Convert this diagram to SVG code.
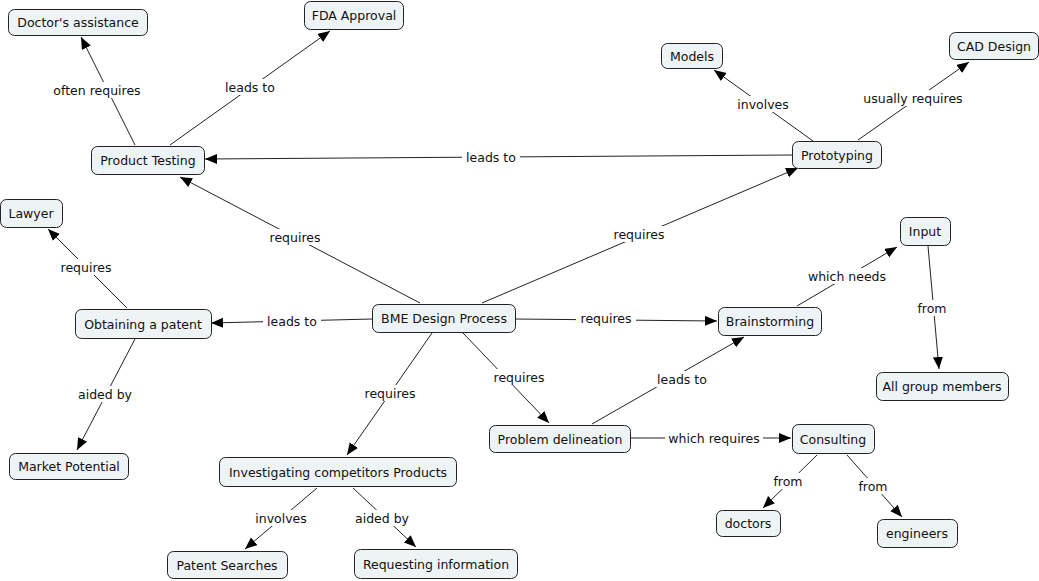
<svg xmlns="http://www.w3.org/2000/svg" width="1039" height="581" viewBox="0 0 1039 581">
<style>
.n rect{fill:#eef3f6;stroke:#222;stroke-width:1}
.n text,.lb text{font-family:"DejaVu Sans",Verdana,sans-serif;font-size:12.5px;fill:#111;text-anchor:middle;dominant-baseline:central}
.c line{stroke:#222;stroke-width:1;fill:none}
.lb rect{fill:#fff}
</style>
<defs>
<marker id="ah" markerUnits="userSpaceOnUse" markerWidth="13" markerHeight="11" refX="12" refY="5" orient="auto">
<path d="M0,0 L12,5 L0,10 z" fill="#000"/>
</marker>
</defs>
<rect width="1039" height="581" fill="#fff"/>
<g id="connectors" class="c">
<line x1="135" y1="145" x2="81" y2="37" marker-end="url(#ah)"/>
<line x1="170" y1="145" x2="330" y2="31" marker-end="url(#ah)"/>
<line x1="792" y1="155" x2="205" y2="159" marker-end="url(#ah)"/>
<line x1="420" y1="303" x2="180" y2="177" marker-end="url(#ah)"/>
<line x1="482" y1="303" x2="798" y2="168" marker-end="url(#ah)"/>
<line x1="813" y1="141" x2="714" y2="70" marker-end="url(#ah)"/>
<line x1="858" y1="140" x2="969" y2="62" marker-end="url(#ah)"/>
<line x1="372" y1="319" x2="211" y2="323" marker-end="url(#ah)"/>
<line x1="127" y1="308" x2="48" y2="229" marker-end="url(#ah)"/>
<line x1="135" y1="339" x2="77" y2="450" marker-end="url(#ah)"/>
<line x1="432" y1="333" x2="347" y2="455" marker-end="url(#ah)"/>
<line x1="463" y1="333" x2="549" y2="423" marker-end="url(#ah)"/>
<line x1="515" y1="319" x2="717" y2="321" marker-end="url(#ah)"/>
<line x1="592" y1="424" x2="744" y2="337" marker-end="url(#ah)"/>
<line x1="797" y1="306" x2="897" y2="247" marker-end="url(#ah)"/>
<line x1="928" y1="246" x2="939" y2="369" marker-end="url(#ah)"/>
<line x1="631" y1="438" x2="791" y2="438" marker-end="url(#ah)"/>
<line x1="817" y1="455" x2="763" y2="508" marker-end="url(#ah)"/>
<line x1="847" y1="455" x2="902" y2="517" marker-end="url(#ah)"/>
<line x1="317" y1="488" x2="245" y2="549" marker-end="url(#ah)"/>
<line x1="353" y1="488" x2="416" y2="547" marker-end="url(#ah)"/>
</g>
<g id="labels" class="lb">
<g><rect x="49" y="82" width="96" height="16"/><text x="97" y="90">often requires</text></g>
<g><rect x="221" y="79" width="58" height="16"/><text x="250" y="87">leads to</text></g>
<g><rect x="462" y="149" width="58" height="16"/><text x="491" y="157">leads to</text></g>
<g><rect x="265" y="229" width="60" height="16"/><text x="295" y="237">requires</text></g>
<g><rect x="609" y="226" width="60" height="16"/><text x="639" y="234">requires</text></g>
<g><rect x="734" y="96" width="58" height="16"/><text x="763" y="104">involves</text></g>
<g><rect x="859" y="90" width="108" height="16"/><text x="913" y="98">usually requires</text></g>
<g><rect x="263" y="313" width="58" height="16"/><text x="292" y="321">leads to</text></g>
<g><rect x="56" y="259" width="60" height="16"/><text x="86" y="267">requires</text></g>
<g><rect x="75" y="386" width="60" height="16"/><text x="105" y="394">aided by</text></g>
<g><rect x="360" y="385" width="60" height="16"/><text x="390" y="393">requires</text></g>
<g><rect x="489" y="369" width="60" height="16"/><text x="519" y="377">requires</text></g>
<g><rect x="576" y="310" width="60" height="16"/><text x="606" y="318">requires</text></g>
<g><rect x="653" y="371" width="58" height="16"/><text x="682" y="379">leads to</text></g>
<g><rect x="807" y="268" width="80" height="16"/><text x="847" y="276">which needs</text></g>
<g><rect x="914" y="300" width="36" height="16"/><text x="932" y="308">from</text></g>
<g><rect x="665" y="430" width="98" height="16"/><text x="714" y="438">which requires</text></g>
<g><rect x="770" y="473" width="36" height="16"/><text x="788" y="481">from</text></g>
<g><rect x="855" y="478" width="36" height="16"/><text x="873" y="486">from</text></g>
<g><rect x="252" y="510" width="58" height="16"/><text x="281" y="518">involves</text></g>
<g><rect x="352" y="510" width="60" height="16"/><text x="382" y="518">aided by</text></g>
</g>
<g id="n-doctors-assistance" class="n"><rect x="8.5" y="9.5" width="139" height="26" rx="6"/><text x="78" y="22.5">Doctor's assistance</text></g>
<g id="n-fda" class="n"><rect x="304.5" y="1.5" width="99" height="28" rx="6"/><text x="354" y="15.5">FDA Approval</text></g>
<g id="n-product-testing" class="n"><rect x="91.5" y="146.5" width="113" height="28" rx="6"/><text x="148" y="160.5">Product Testing</text></g>
<g id="n-models" class="n"><rect x="661.5" y="43.5" width="61" height="25" rx="6"/><text x="692" y="56">Models</text></g>
<g id="n-cad" class="n"><rect x="949.5" y="32.5" width="89" height="27" rx="6"/><text x="994" y="46">CAD Design</text></g>
<g id="n-prototyping" class="n"><rect x="792.5" y="141.5" width="89" height="27" rx="6"/><text x="837" y="155">Prototyping</text></g>
<g id="n-bme" class="n"><rect x="372.5" y="304.5" width="143" height="28" rx="6"/><text x="444" y="318.5">BME Design Process</text></g>
<g id="n-lawyer" class="n"><rect x="0.5" y="199.5" width="62" height="28" rx="6"/><text x="31" y="213.5">Lawyer</text></g>
<g id="n-patent" class="n"><rect x="75.5" y="309.5" width="136" height="29" rx="6"/><text x="143" y="324">Obtaining a patent</text></g>
<g id="n-market" class="n"><rect x="9.5" y="453.5" width="119" height="26" rx="6"/><text x="69" y="466.5">Market Potential</text></g>
<g id="n-brainstorming" class="n"><rect x="718.5" y="307.5" width="103" height="28" rx="6"/><text x="770" y="321.5">Brainstorming</text></g>
<g id="n-input" class="n"><rect x="900.5" y="217.5" width="50" height="28" rx="6"/><text x="925" y="231.5">Input</text></g>
<g id="n-all-group" class="n"><rect x="876.5" y="372.5" width="132" height="28" rx="6"/><text x="942" y="386.5">All group members</text></g>
<g id="n-problem" class="n"><rect x="489.5" y="425.5" width="141" height="27" rx="6"/><text x="560" y="439">Problem delineation</text></g>
<g id="n-consulting" class="n"><rect x="792.5" y="424.5" width="82" height="29" rx="6"/><text x="833" y="439">Consulting</text></g>
<g id="n-doctors" class="n"><rect x="716.5" y="510.5" width="64" height="26" rx="6"/><text x="748" y="523.5">doctors</text></g>
<g id="n-engineers" class="n"><rect x="877.5" y="519.5" width="80" height="28" rx="6"/><text x="917" y="533.5">engineers</text></g>
<g id="n-investigating" class="n"><rect x="219.5" y="457.5" width="237" height="29" rx="6"/><text x="338" y="472">Investigating competitors Products</text></g>
<g id="n-patent-searches" class="n"><rect x="167.5" y="551.5" width="120" height="27" rx="6"/><text x="227" y="565">Patent Searches</text></g>
<g id="n-requesting" class="n"><rect x="354.5" y="549.5" width="163" height="29" rx="6"/><text x="436" y="564">Requesting information</text></g>
</svg>
